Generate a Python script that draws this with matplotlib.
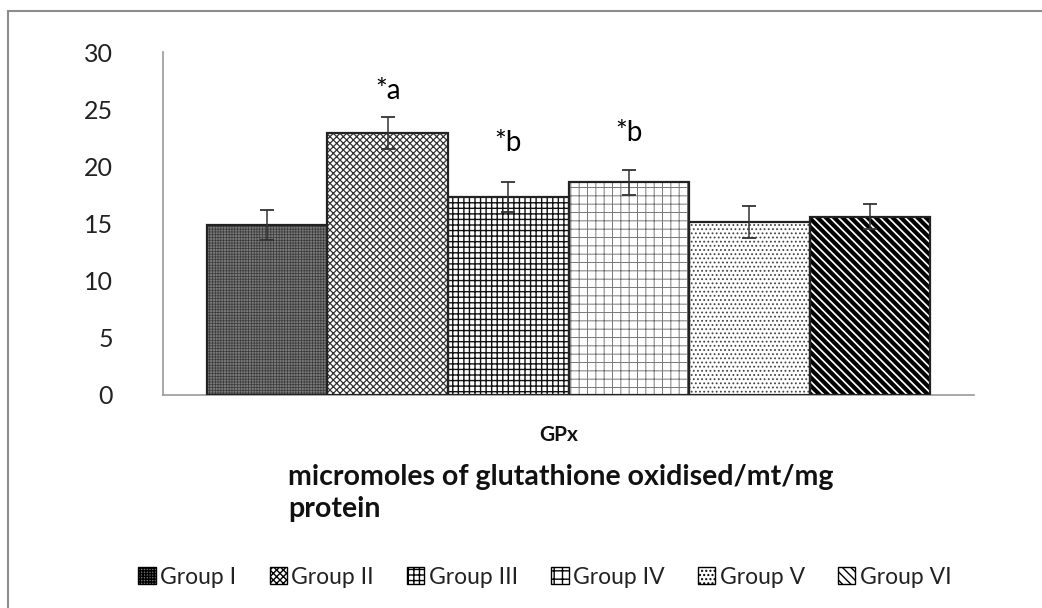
import numpy as np
import matplotlib
matplotlib.use("Agg")
import matplotlib.pyplot as plt
from matplotlib.patches import Rectangle, Patch

plt.rcParams['font.family'] = ['Lato', 'DejaVu Sans']

groups = ["Group I", "Group II", "Group III", "Group IV", "Group V", "Group VI"]
values = [14.9, 22.9, 17.3, 18.6, 15.1, 15.6]
errors = [1.3, 1.4, 1.3, 1.1, 1.4, 1.1]
labels = ["", "*a", "*b", "*b", "", ""]
label_y = [None, 26.6, 22.0, 22.9, None, None]
category = "GPx"
yticks = [0, 5, 10, 15, 20, 25, 30]

faces = ['#7a7a7a', 'white', 'white', 'white', 'white', 'white']
hatch_cols = ['#3a3a3a', '#333333', '#111111', '#777777', '#444444', 'black']
hatches = ['++++++', 'xxxxx', '+++', '++', '....', '\\\\\\\\']
hatch_lw = [0.5, 0.9, 1.0, 0.7, 0.8, 3.0]

fig = plt.figure(figsize=(10.42, 6.08), dpi=100)
# outer chart frame
fig.patches.append(Rectangle((8/1042, -0.05), 1.2, 1 - 11/608 + 0.05,
                             transform=fig.transFigure, fill=False,
                             edgecolor='#8c8c8c', linewidth=1.5))

ax = fig.add_axes([163/1042, 1 - 395/608, (974 - 163)/1042, (395 - 52)/608])

w = 1.0
x = (np.arange(len(groups)) - (len(groups) - 1) / 2) * w
for i, g in enumerate(groups):
    b = ax.bar(x[i], values[i], width=w, color=faces[i], edgecolor=hatch_cols[i],
               hatch=hatches[i], linewidth=0, zorder=2)
    for p in b:
        if hasattr(p, 'set_hatch_linewidth'):
            p.set_hatch_linewidth(hatch_lw[i])
    ax.bar(x[i], values[i], width=w, fill=False, edgecolor='#222222',
           linewidth=1.6, zorder=3)
    ax.errorbar(x[i], values[i], yerr=errors[i], fmt='none', ecolor='#333333',
                elinewidth=1.1, capsize=5, capthick=1.3, zorder=4)
    if labels[i]:
        ax.text(x[i], label_y[i], labels[i], ha='center', va='center',
                fontsize=20, color='black')

ax.set_xlim(x[0] - w / 2 - 44 / 121 * w, x[-1] + w / 2 + 44 / 121 * w)
ax.set_ylim(0, 30)
ax.set_yticks(yticks)
ax.set_yticklabels([str(t) for t in yticks], fontsize=18, color='#222222')
ax.tick_params(axis='y', length=0, pad=36)
ax.set_xticks([])
for s in ['top', 'right']:
    ax.spines[s].set_visible(False)
ax.spines['left'].set_color('#9a9a9a')
ax.spines['bottom'].set_color('#9a9a9a')
ax.spines['left'].set_linewidth(1.2)
ax.spines['bottom'].set_linewidth(1.2)

fig.text(0.5365, 1 - 435/608, category, ha='center', va='center',
         fontsize=15, fontweight='bold', color='#111111')
fig.text(288/1042, 1 - 493/608, "micromoles of glutathione oxidised/mt/mg\nprotein",
         ha='left', va='center', fontsize=20.5, fontweight='bold',
         color='#111111', linespacing=1.25)
# legend
handles = []
for i, g in enumerate(groups):
    handles.append(Patch(facecolor=faces[i], edgecolor='black', hatch=hatches[i],
                         linewidth=1.0, label=g))
leg = fig.legend(handles=handles, loc='center', bbox_to_anchor=(0.523, 1 - 577/608),
                 ncol=6, frameon=False, fontsize=16.5, handlelength=0.75,
                 handleheight=0.75, handletextpad=0.2, columnspacing=1.45)
for t in leg.get_texts():
    t.set_color('#222222')

fig.savefig("out.png", dpi=100)
